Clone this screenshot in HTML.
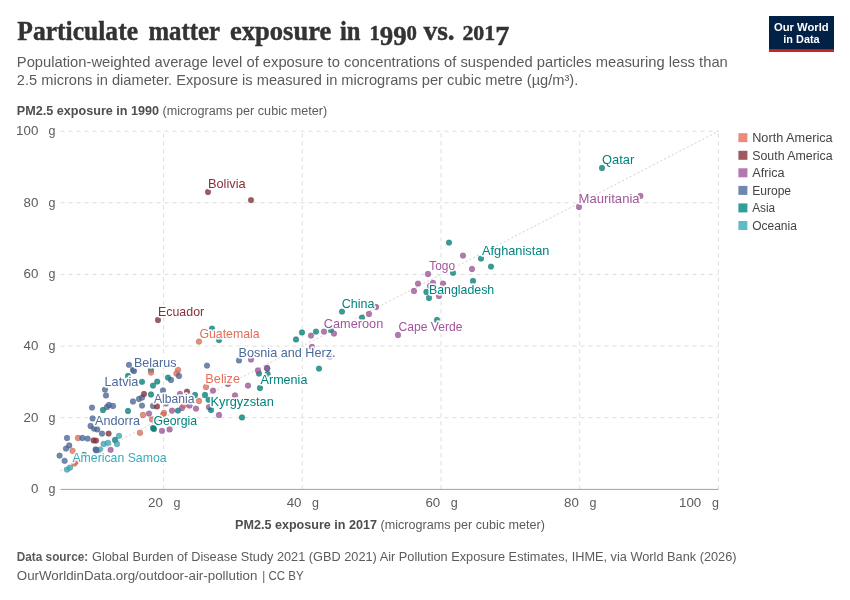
<!DOCTYPE html><html><head><meta charset="utf-8"><title>Particulate matter exposure in 1990 vs. 2017</title>
<style>html,body{margin:0;padding:0;background:#fff}svg{display:block;will-change:transform;opacity:0.999}text{font-family:"Liberation Sans",sans-serif}.ser{font-family:"Liberation Serif",serif}</style></head><body>
<svg width="850" height="600" viewBox="0 0 850 600">
<rect width="850" height="600" fill="#fff"/>
<text class="ser" x="17.3" y="40.1" font-size="28" font-weight="700" fill="#333" stroke="#333" stroke-width="0.45" textLength="120.7" lengthAdjust="spacingAndGlyphs">Particulate</text>
<text class="ser" x="148.4" y="40.1" font-size="28" font-weight="700" fill="#333" stroke="#333" stroke-width="0.45" textLength="71.5" lengthAdjust="spacingAndGlyphs">matter</text>
<text class="ser" x="230.0" y="40.1" font-size="28" font-weight="700" fill="#333" stroke="#333" stroke-width="0.45" textLength="101.3" lengthAdjust="spacingAndGlyphs">exposure</text>
<text class="ser" x="340.0" y="40.1" font-size="28" font-weight="700" fill="#333" stroke="#333" stroke-width="0.45" textLength="20.5" lengthAdjust="spacingAndGlyphs">in</text>
<text class="ser" x="423.5" y="40.1" font-size="28" font-weight="700" fill="#333" stroke="#333" stroke-width="0.45" textLength="31.1" lengthAdjust="spacingAndGlyphs">vs.</text>
<text class="ser" x="369.4" y="40.1" font-size="20.5" font-weight="700" fill="#333" stroke="#333" stroke-width="0.45" textLength="47.6" lengthAdjust="spacingAndGlyphs">1<tspan dy="4.6" font-size="26.5">99</tspan><tspan dy="-4.6">0</tspan></text>
<text class="ser" x="462.4" y="40.1" font-size="20.5" font-weight="700" fill="#333" stroke="#333" stroke-width="0.45" textLength="47" lengthAdjust="spacingAndGlyphs">201<tspan dy="4.6" font-size="26.5">7</tspan></text>
<text x="16.8" y="66.5" font-size="15" fill="#5b5b5b" textLength="711" lengthAdjust="spacingAndGlyphs">Population-weighted average level of exposure to concentrations of suspended particles measuring less than</text>
<text x="16.8" y="84.5" font-size="15" fill="#5b5b5b" textLength="561.5" lengthAdjust="spacingAndGlyphs">2.5 microns in diameter. Exposure is measured in micrograms per cubic metre (µg/m³).</text>
<rect x="769" y="16" width="65" height="36" fill="#002147"/><rect x="769" y="49.2" width="65" height="2.8" fill="#ce261e"/>
<text x="801.3" y="30.6" font-size="11.5" font-weight="700" fill="#fff" text-anchor="middle" textLength="54.7" lengthAdjust="spacingAndGlyphs">Our World</text>
<text x="801.5" y="42.6" font-size="11.5" font-weight="700" fill="#fff" text-anchor="middle" textLength="36.3" lengthAdjust="spacingAndGlyphs">in Data</text>
<text x="16.8" y="115" font-size="12.5" fill="#5b5b5b" textLength="310.4" lengthAdjust="spacingAndGlyphs"><tspan font-weight="700" fill="#4e4e4e">PM2.5 exposure in 1990</tspan> (micrograms per cubic meter)</text>
<g stroke="#ddd" stroke-width="1" stroke-dasharray="4,4" fill="none">
<line x1="60.5" x2="718.5" y1="417.7" y2="417.7"/>
<line x1="60.5" x2="718.5" y1="346.1" y2="346.1"/>
<line x1="60.5" x2="718.5" y1="274.4" y2="274.4"/>
<line x1="60.5" x2="718.5" y1="202.8" y2="202.8"/>
<line x1="60.5" x2="718.5" y1="131.2" y2="131.2"/>
<line x1="163.6" x2="163.6" y1="489.3" y2="131.2"/>
<line x1="302.3" x2="302.3" y1="489.3" y2="131.2"/>
<line x1="441.0" x2="441.0" y1="489.3" y2="131.2"/>
<line x1="579.7" x2="579.7" y1="489.3" y2="131.2"/>
<line x1="718.4" x2="718.4" y1="489.3" y2="131.2"/>
</g>
<line x1="60.5" y1="470.9" x2="718.5" y2="131.2" stroke="#d0d0d0" stroke-width="1" stroke-dasharray="2,2.3"/>
<line x1="60.5" x2="718.5" y1="489.4" y2="489.4" stroke="#a1a1a1" stroke-width="1"/>
<g font-size="12.5" fill="#5b5b5b">
<text x="38.3" y="493.2" text-anchor="end" textLength="7.4" lengthAdjust="spacingAndGlyphs">0</text><text x="48.6" y="493.2">g</text>
<text x="38.3" y="421.6" text-anchor="end" textLength="14.8" lengthAdjust="spacingAndGlyphs">20</text><text x="48.6" y="421.6">g</text>
<text x="38.3" y="350.0" text-anchor="end" textLength="14.8" lengthAdjust="spacingAndGlyphs">40</text><text x="48.6" y="350.0">g</text>
<text x="38.3" y="278.3" text-anchor="end" textLength="14.8" lengthAdjust="spacingAndGlyphs">60</text><text x="48.6" y="278.3">g</text>
<text x="38.3" y="206.7" text-anchor="end" textLength="14.8" lengthAdjust="spacingAndGlyphs">80</text><text x="48.6" y="206.7">g</text>
<text x="38.3" y="135.1" text-anchor="end" textLength="22.2" lengthAdjust="spacingAndGlyphs">100</text><text x="48.6" y="135.1">g</text>
<text x="162.8" y="507" text-anchor="end" textLength="14.8" lengthAdjust="spacingAndGlyphs">20</text><text x="173.4" y="507">g</text>
<text x="301.5" y="507" text-anchor="end" textLength="14.8" lengthAdjust="spacingAndGlyphs">40</text><text x="312.1" y="507">g</text>
<text x="440.2" y="507" text-anchor="end" textLength="14.8" lengthAdjust="spacingAndGlyphs">60</text><text x="450.8" y="507">g</text>
<text x="578.9" y="507" text-anchor="end" textLength="14.8" lengthAdjust="spacingAndGlyphs">80</text><text x="589.5" y="507">g</text>
<text x="701.2" y="507" text-anchor="end" textLength="22.2" lengthAdjust="spacingAndGlyphs">100</text><text x="712" y="507">g</text>
</g>
<text x="235" y="528.5" font-size="12.5" fill="#5b5b5b" textLength="310" lengthAdjust="spacingAndGlyphs"><tspan font-weight="700" fill="#4e4e4e">PM2.5 exposure in 2017</tspan> (micrograms per cubic meter)</text>
<g stroke-width="0.5">
<circle cx="59.6" cy="455.6" r="2.9" fill="#4C6A9C" fill-opacity="0.8" stroke="#333" stroke-opacity="0.35"/>
<circle cx="64.6" cy="460.8" r="2.9" fill="#4C6A9C" fill-opacity="0.8" stroke="#333" stroke-opacity="0.35"/>
<circle cx="67" cy="438" r="2.9" fill="#4C6A9C" fill-opacity="0.8" stroke="#333" stroke-opacity="0.35"/>
<circle cx="66" cy="448.6" r="2.9" fill="#4C6A9C" fill-opacity="0.8" stroke="#333" stroke-opacity="0.35"/>
<circle cx="69.2" cy="445.4" r="2.9" fill="#4C6A9C" fill-opacity="0.8" stroke="#333" stroke-opacity="0.35"/>
<circle cx="72.6" cy="450.8" r="2.9" fill="#E56E5A" fill-opacity="0.8" stroke="#333" stroke-opacity="0.35"/>
<circle cx="78" cy="438" r="2.9" fill="#E56E5A" fill-opacity="0.8" stroke="#333" stroke-opacity="0.35"/>
<circle cx="82.4" cy="438" r="2.9" fill="#4C6A9C" fill-opacity="0.8" stroke="#333" stroke-opacity="0.35"/>
<circle cx="87.6" cy="438.6" r="2.9" fill="#4C6A9C" fill-opacity="0.8" stroke="#333" stroke-opacity="0.35"/>
<circle cx="93.6" cy="440.4" r="2.9" fill="#883039" fill-opacity="0.8" stroke="#333" stroke-opacity="0.35"/>
<circle cx="96" cy="440.6" r="2.9" fill="#883039" fill-opacity="0.8" stroke="#333" stroke-opacity="0.35"/>
<circle cx="67" cy="469.6" r="2.9" fill="#38AABA" fill-opacity="0.8" stroke="#333" stroke-opacity="0.35"/>
<circle cx="70" cy="467.6" r="2.9" fill="#38AABA" fill-opacity="0.8" stroke="#333" stroke-opacity="0.35"/>
<circle cx="74.4" cy="463.6" r="2.9" fill="#E56E5A" fill-opacity="0.8" stroke="#333" stroke-opacity="0.35"/>
<circle cx="76" cy="461.6" r="2.9" fill="#E56E5A" fill-opacity="0.8" stroke="#333" stroke-opacity="0.35"/>
<circle cx="84" cy="455" r="2.9" fill="#00847E" fill-opacity="0.8" stroke="#333" stroke-opacity="0.35"/>
<circle cx="92" cy="407.6" r="2.9" fill="#4C6A9C" fill-opacity="0.8" stroke="#333" stroke-opacity="0.35"/>
<circle cx="92.6" cy="418.4" r="2.9" fill="#4C6A9C" fill-opacity="0.8" stroke="#333" stroke-opacity="0.35"/>
<circle cx="90.6" cy="426" r="2.9" fill="#4C6A9C" fill-opacity="0.8" stroke="#333" stroke-opacity="0.35"/>
<circle cx="94" cy="428.6" r="2.9" fill="#4C6A9C" fill-opacity="0.8" stroke="#333" stroke-opacity="0.35"/>
<circle cx="97.2" cy="429.4" r="2.9" fill="#4C6A9C" fill-opacity="0.8" stroke="#333" stroke-opacity="0.35"/>
<circle cx="102" cy="433.6" r="2.9" fill="#4C6A9C" fill-opacity="0.8" stroke="#333" stroke-opacity="0.35"/>
<circle cx="108.6" cy="433.6" r="2.9" fill="#883039" fill-opacity="0.8" stroke="#333" stroke-opacity="0.35"/>
<circle cx="119" cy="435.8" r="2.9" fill="#38AABA" fill-opacity="0.8" stroke="#333" stroke-opacity="0.35"/>
<circle cx="115" cy="440" r="2.9" fill="#00847E" fill-opacity="0.8" stroke="#333" stroke-opacity="0.35"/>
<circle cx="117" cy="444" r="2.9" fill="#38AABA" fill-opacity="0.8" stroke="#333" stroke-opacity="0.35"/>
<circle cx="103.6" cy="444" r="2.9" fill="#38AABA" fill-opacity="0.8" stroke="#333" stroke-opacity="0.35"/>
<circle cx="108" cy="442.8" r="2.9" fill="#38AABA" fill-opacity="0.8" stroke="#333" stroke-opacity="0.35"/>
<circle cx="95.6" cy="449.4" r="2.9" fill="#4C6A9C" fill-opacity="0.8" stroke="#333" stroke-opacity="0.35"/>
<circle cx="100" cy="449.6" r="2.9" fill="#38AABA" fill-opacity="0.8" stroke="#333" stroke-opacity="0.35"/>
<circle cx="96.4" cy="450.4" r="2.9" fill="#4C6A9C" fill-opacity="0.8" stroke="#333" stroke-opacity="0.35"/>
<circle cx="110.6" cy="449.8" r="2.9" fill="#A2559C" fill-opacity="0.8" stroke="#333" stroke-opacity="0.35"/>
<circle cx="105" cy="389.6" r="2.9" fill="#4C6A9C" fill-opacity="0.8" stroke="#333" stroke-opacity="0.35"/>
<circle cx="106" cy="395.4" r="2.9" fill="#4C6A9C" fill-opacity="0.8" stroke="#333" stroke-opacity="0.35"/>
<circle cx="103" cy="410" r="2.9" fill="#00847E" fill-opacity="0.8" stroke="#333" stroke-opacity="0.35"/>
<circle cx="107" cy="407" r="2.9" fill="#4C6A9C" fill-opacity="0.8" stroke="#333" stroke-opacity="0.35"/>
<circle cx="109" cy="405" r="2.9" fill="#4C6A9C" fill-opacity="0.8" stroke="#333" stroke-opacity="0.35"/>
<circle cx="113" cy="406" r="2.9" fill="#4C6A9C" fill-opacity="0.8" stroke="#333" stroke-opacity="0.35"/>
<circle cx="128" cy="411" r="2.9" fill="#00847E" fill-opacity="0.8" stroke="#333" stroke-opacity="0.35"/>
<circle cx="133" cy="401.5" r="2.9" fill="#4C6A9C" fill-opacity="0.8" stroke="#333" stroke-opacity="0.35"/>
<circle cx="139" cy="399" r="2.9" fill="#4C6A9C" fill-opacity="0.8" stroke="#333" stroke-opacity="0.35"/>
<circle cx="142" cy="397.6" r="2.9" fill="#4C6A9C" fill-opacity="0.8" stroke="#333" stroke-opacity="0.35"/>
<circle cx="144" cy="394" r="2.9" fill="#883039" fill-opacity="0.8" stroke="#333" stroke-opacity="0.35"/>
<circle cx="142" cy="405.6" r="2.9" fill="#4C6A9C" fill-opacity="0.8" stroke="#333" stroke-opacity="0.35"/>
<circle cx="143" cy="415" r="2.9" fill="#E56E5A" fill-opacity="0.8" stroke="#333" stroke-opacity="0.35"/>
<circle cx="149" cy="413.6" r="2.9" fill="#A2559C" fill-opacity="0.8" stroke="#333" stroke-opacity="0.35"/>
<circle cx="151" cy="394.5" r="2.9" fill="#00847E" fill-opacity="0.8" stroke="#333" stroke-opacity="0.35"/>
<circle cx="153" cy="406" r="2.9" fill="#4C6A9C" fill-opacity="0.8" stroke="#333" stroke-opacity="0.35"/>
<circle cx="157" cy="406.4" r="2.9" fill="#883039" fill-opacity="0.8" stroke="#333" stroke-opacity="0.35"/>
<circle cx="152" cy="419.4" r="2.9" fill="#E56E5A" fill-opacity="0.8" stroke="#333" stroke-opacity="0.35"/>
<circle cx="154" cy="429" r="2.9" fill="#00847E" fill-opacity="0.8" stroke="#333" stroke-opacity="0.35"/>
<circle cx="153" cy="428" r="2.9" fill="#00847E" fill-opacity="0.8" stroke="#333" stroke-opacity="0.35"/>
<circle cx="140" cy="432.8" r="2.9" fill="#E56E5A" fill-opacity="0.8" stroke="#333" stroke-opacity="0.35"/>
<circle cx="162" cy="430.8" r="2.9" fill="#A2559C" fill-opacity="0.8" stroke="#333" stroke-opacity="0.35"/>
<circle cx="169.6" cy="429.4" r="2.9" fill="#A2559C" fill-opacity="0.8" stroke="#333" stroke-opacity="0.35"/>
<circle cx="164" cy="413" r="2.9" fill="#E56E5A" fill-opacity="0.8" stroke="#333" stroke-opacity="0.35"/>
<circle cx="163" cy="415" r="2.9" fill="#E56E5A" fill-opacity="0.8" stroke="#333" stroke-opacity="0.35"/>
<circle cx="172" cy="410.6" r="2.9" fill="#A2559C" fill-opacity="0.8" stroke="#333" stroke-opacity="0.35"/>
<circle cx="178" cy="410.6" r="2.9" fill="#00847E" fill-opacity="0.8" stroke="#333" stroke-opacity="0.35"/>
<circle cx="182" cy="408" r="2.9" fill="#A2559C" fill-opacity="0.8" stroke="#333" stroke-opacity="0.35"/>
<circle cx="180" cy="394" r="2.9" fill="#A2559C" fill-opacity="0.8" stroke="#333" stroke-opacity="0.35"/>
<circle cx="187" cy="391.6" r="2.9" fill="#883039" fill-opacity="0.8" stroke="#333" stroke-opacity="0.35"/>
<circle cx="184" cy="405" r="2.9" fill="#E56E5A" fill-opacity="0.8" stroke="#333" stroke-opacity="0.35"/>
<circle cx="196" cy="408.6" r="2.9" fill="#A2559C" fill-opacity="0.8" stroke="#333" stroke-opacity="0.35"/>
<circle cx="199" cy="401" r="2.9" fill="#E56E5A" fill-opacity="0.8" stroke="#333" stroke-opacity="0.35"/>
<circle cx="205" cy="395" r="2.9" fill="#00847E" fill-opacity="0.8" stroke="#333" stroke-opacity="0.35"/>
<circle cx="195" cy="395" r="2.9" fill="#00847E" fill-opacity="0.8" stroke="#333" stroke-opacity="0.35"/>
<circle cx="206" cy="387" r="2.9" fill="#E56E5A" fill-opacity="0.8" stroke="#333" stroke-opacity="0.35"/>
<circle cx="163" cy="390.4" r="2.9" fill="#4C6A9C" fill-opacity="0.8" stroke="#333" stroke-opacity="0.35"/>
<circle cx="153" cy="385.6" r="2.9" fill="#00847E" fill-opacity="0.8" stroke="#333" stroke-opacity="0.35"/>
<circle cx="157.2" cy="381.6" r="2.9" fill="#00847E" fill-opacity="0.8" stroke="#333" stroke-opacity="0.35"/>
<circle cx="142" cy="381.8" r="2.9" fill="#00847E" fill-opacity="0.8" stroke="#333" stroke-opacity="0.35"/>
<circle cx="171" cy="380" r="2.9" fill="#4C6A9C" fill-opacity="0.8" stroke="#333" stroke-opacity="0.35"/>
<circle cx="158" cy="320" r="2.9" fill="#883039" fill-opacity="0.8" stroke="#333" stroke-opacity="0.35"/>
<circle cx="199" cy="341.6" r="2.9" fill="#E56E5A" fill-opacity="0.8" stroke="#333" stroke-opacity="0.35"/>
<circle cx="129" cy="364.8" r="2.9" fill="#4C6A9C" fill-opacity="0.8" stroke="#333" stroke-opacity="0.35"/>
<circle cx="133" cy="370" r="2.9" fill="#4C6A9C" fill-opacity="0.8" stroke="#333" stroke-opacity="0.35"/>
<circle cx="134" cy="371" r="2.9" fill="#4C6A9C" fill-opacity="0.8" stroke="#333" stroke-opacity="0.35"/>
<circle cx="128" cy="376" r="2.9" fill="#00847E" fill-opacity="0.8" stroke="#333" stroke-opacity="0.35"/>
<circle cx="151" cy="370" r="2.9" fill="#00847E" fill-opacity="0.8" stroke="#333" stroke-opacity="0.35"/>
<circle cx="151" cy="372.6" r="2.9" fill="#E56E5A" fill-opacity="0.8" stroke="#333" stroke-opacity="0.35"/>
<circle cx="168" cy="377.6" r="2.9" fill="#00847E" fill-opacity="0.8" stroke="#333" stroke-opacity="0.35"/>
<circle cx="178" cy="370" r="2.9" fill="#E56E5A" fill-opacity="0.8" stroke="#333" stroke-opacity="0.35"/>
<circle cx="176.4" cy="373.6" r="2.9" fill="#E56E5A" fill-opacity="0.8" stroke="#333" stroke-opacity="0.35"/>
<circle cx="179" cy="376" r="2.9" fill="#4C6A9C" fill-opacity="0.8" stroke="#333" stroke-opacity="0.35"/>
<circle cx="207" cy="365.6" r="2.9" fill="#4C6A9C" fill-opacity="0.8" stroke="#333" stroke-opacity="0.35"/>
<circle cx="212" cy="328.6" r="2.9" fill="#00847E" fill-opacity="0.8" stroke="#333" stroke-opacity="0.35"/>
<circle cx="219" cy="340" r="2.9" fill="#00847E" fill-opacity="0.8" stroke="#333" stroke-opacity="0.35"/>
<circle cx="239" cy="360.4" r="2.9" fill="#4C6A9C" fill-opacity="0.8" stroke="#333" stroke-opacity="0.35"/>
<circle cx="251" cy="359.6" r="2.9" fill="#A2559C" fill-opacity="0.8" stroke="#333" stroke-opacity="0.35"/>
<circle cx="259" cy="373.6" r="2.9" fill="#00847E" fill-opacity="0.8" stroke="#333" stroke-opacity="0.35"/>
<circle cx="267.6" cy="374" r="2.9" fill="#00847E" fill-opacity="0.8" stroke="#333" stroke-opacity="0.35"/>
<circle cx="267.2" cy="368.4" r="2.9" fill="#00847E" fill-opacity="0.8" stroke="#333" stroke-opacity="0.35"/>
<circle cx="258" cy="370.4" r="2.9" fill="#A2559C" fill-opacity="0.8" stroke="#333" stroke-opacity="0.35"/>
<circle cx="267" cy="368" r="2.9" fill="#A2559C" fill-opacity="0.8" stroke="#333" stroke-opacity="0.35"/>
<circle cx="213" cy="390.6" r="2.9" fill="#A2559C" fill-opacity="0.8" stroke="#333" stroke-opacity="0.35"/>
<circle cx="228" cy="384" r="2.9" fill="#A2559C" fill-opacity="0.8" stroke="#333" stroke-opacity="0.35"/>
<circle cx="248" cy="385.6" r="2.9" fill="#A2559C" fill-opacity="0.8" stroke="#333" stroke-opacity="0.35"/>
<circle cx="260" cy="388" r="2.9" fill="#00847E" fill-opacity="0.8" stroke="#333" stroke-opacity="0.35"/>
<circle cx="235" cy="395.5" r="2.9" fill="#A2559C" fill-opacity="0.8" stroke="#333" stroke-opacity="0.35"/>
<circle cx="208.6" cy="399.8" r="2.9" fill="#00847E" fill-opacity="0.8" stroke="#333" stroke-opacity="0.35"/>
<circle cx="209" cy="407.2" r="2.9" fill="#A2559C" fill-opacity="0.8" stroke="#333" stroke-opacity="0.35"/>
<circle cx="211" cy="410" r="2.9" fill="#00847E" fill-opacity="0.8" stroke="#333" stroke-opacity="0.35"/>
<circle cx="296" cy="339.4" r="2.9" fill="#00847E" fill-opacity="0.8" stroke="#333" stroke-opacity="0.35"/>
<circle cx="302" cy="332.4" r="2.9" fill="#00847E" fill-opacity="0.8" stroke="#333" stroke-opacity="0.35"/>
<circle cx="311" cy="335.6" r="2.9" fill="#A2559C" fill-opacity="0.8" stroke="#333" stroke-opacity="0.35"/>
<circle cx="316" cy="331.6" r="2.9" fill="#00847E" fill-opacity="0.8" stroke="#333" stroke-opacity="0.35"/>
<circle cx="324" cy="331.6" r="2.9" fill="#A2559C" fill-opacity="0.8" stroke="#333" stroke-opacity="0.35"/>
<circle cx="331" cy="330" r="2.9" fill="#00847E" fill-opacity="0.8" stroke="#333" stroke-opacity="0.35"/>
<circle cx="334" cy="333.6" r="2.9" fill="#A2559C" fill-opacity="0.8" stroke="#333" stroke-opacity="0.35"/>
<circle cx="312" cy="347" r="2.9" fill="#A2559C" fill-opacity="0.8" stroke="#333" stroke-opacity="0.35"/>
<circle cx="330" cy="356.4" r="2.9" fill="#A2559C" fill-opacity="0.8" stroke="#333" stroke-opacity="0.35"/>
<circle cx="319" cy="368.6" r="2.9" fill="#00847E" fill-opacity="0.8" stroke="#333" stroke-opacity="0.35"/>
<circle cx="342" cy="311.6" r="2.9" fill="#00847E" fill-opacity="0.8" stroke="#333" stroke-opacity="0.35"/>
<circle cx="219" cy="415" r="2.9" fill="#A2559C" fill-opacity="0.8" stroke="#333" stroke-opacity="0.35"/>
<circle cx="242" cy="417.4" r="2.9" fill="#00847E" fill-opacity="0.8" stroke="#333" stroke-opacity="0.35"/>
<circle cx="362" cy="317.6" r="2.9" fill="#00847E" fill-opacity="0.8" stroke="#333" stroke-opacity="0.35"/>
<circle cx="369" cy="314" r="2.9" fill="#A2559C" fill-opacity="0.8" stroke="#333" stroke-opacity="0.35"/>
<circle cx="376" cy="307" r="2.9" fill="#A2559C" fill-opacity="0.8" stroke="#333" stroke-opacity="0.35"/>
<circle cx="398" cy="335" r="2.9" fill="#A2559C" fill-opacity="0.8" stroke="#333" stroke-opacity="0.35"/>
<circle cx="414" cy="291" r="2.9" fill="#A2559C" fill-opacity="0.8" stroke="#333" stroke-opacity="0.35"/>
<circle cx="418" cy="283.6" r="2.9" fill="#A2559C" fill-opacity="0.8" stroke="#333" stroke-opacity="0.35"/>
<circle cx="428" cy="274" r="2.9" fill="#A2559C" fill-opacity="0.8" stroke="#333" stroke-opacity="0.35"/>
<circle cx="453" cy="272.8" r="2.9" fill="#00847E" fill-opacity="0.8" stroke="#333" stroke-opacity="0.35"/>
<circle cx="430" cy="286" r="2.9" fill="#A2559C" fill-opacity="0.8" stroke="#333" stroke-opacity="0.35"/>
<circle cx="433" cy="283" r="2.9" fill="#A2559C" fill-opacity="0.8" stroke="#333" stroke-opacity="0.35"/>
<circle cx="443" cy="283.6" r="2.9" fill="#A2559C" fill-opacity="0.8" stroke="#333" stroke-opacity="0.35"/>
<circle cx="426.4" cy="292" r="2.9" fill="#00847E" fill-opacity="0.8" stroke="#333" stroke-opacity="0.35"/>
<circle cx="429" cy="298" r="2.9" fill="#00847E" fill-opacity="0.8" stroke="#333" stroke-opacity="0.35"/>
<circle cx="439" cy="296" r="2.9" fill="#A2559C" fill-opacity="0.8" stroke="#333" stroke-opacity="0.35"/>
<circle cx="437" cy="320" r="2.9" fill="#00847E" fill-opacity="0.8" stroke="#333" stroke-opacity="0.35"/>
<circle cx="449" cy="242.6" r="2.9" fill="#00847E" fill-opacity="0.8" stroke="#333" stroke-opacity="0.35"/>
<circle cx="463" cy="255.6" r="2.9" fill="#A2559C" fill-opacity="0.8" stroke="#333" stroke-opacity="0.35"/>
<circle cx="481" cy="258.6" r="2.9" fill="#00847E" fill-opacity="0.8" stroke="#333" stroke-opacity="0.35"/>
<circle cx="491" cy="266.6" r="2.9" fill="#00847E" fill-opacity="0.8" stroke="#333" stroke-opacity="0.35"/>
<circle cx="472" cy="269" r="2.9" fill="#A2559C" fill-opacity="0.8" stroke="#333" stroke-opacity="0.35"/>
<circle cx="473" cy="281" r="2.9" fill="#00847E" fill-opacity="0.8" stroke="#333" stroke-opacity="0.35"/>
<circle cx="602" cy="168" r="2.9" fill="#00847E" fill-opacity="0.8" stroke="#333" stroke-opacity="0.35"/>
<circle cx="579" cy="207" r="2.9" fill="#A2559C" fill-opacity="0.8" stroke="#333" stroke-opacity="0.35"/>
<circle cx="640.4" cy="196" r="2.9" fill="#A2559C" fill-opacity="0.8" stroke="#333" stroke-opacity="0.35"/>
<circle cx="208" cy="192" r="2.9" fill="#883039" fill-opacity="0.8" stroke="#333" stroke-opacity="0.35"/>
<circle cx="251" cy="200.1" r="2.9" fill="#883039" fill-opacity="0.8" stroke="#333" stroke-opacity="0.35"/>
<circle cx="189.5" cy="405.6" r="2.9" fill="#A2559C" fill-opacity="0.8" stroke="#333" stroke-opacity="0.35"/>
<circle cx="166" cy="403.5" r="2.9" fill="#A2559C" fill-opacity="0.8" stroke="#333" stroke-opacity="0.35"/>
<circle cx="155.5" cy="419.5" r="2.9" fill="#A2559C" fill-opacity="0.8" stroke="#333" stroke-opacity="0.35"/>
</g>
<g font-size="13" stroke-linejoin="round">
<text x="601.99" y="164.2" fill="#00847E" stroke="#fff" stroke-width="3.3" stroke-opacity="0.9" paint-order="stroke" textLength="32.22" lengthAdjust="spacingAndGlyphs">Qatar</text>
<text x="578.53" y="203.0" fill="#A2559C" stroke="#fff" stroke-width="3.3" stroke-opacity="0.9" paint-order="stroke" textLength="61.07" lengthAdjust="spacingAndGlyphs">Mauritania</text>
<text x="207.95" y="188.2" fill="#883039" stroke="#fff" stroke-width="3.3" stroke-opacity="0.9" paint-order="stroke" textLength="37.65" lengthAdjust="spacingAndGlyphs">Bolivia</text>
<text x="481.98" y="255.0" fill="#00847E" stroke="#fff" stroke-width="3.3" stroke-opacity="0.9" paint-order="stroke" textLength="67.45" lengthAdjust="spacingAndGlyphs">Afghanistan</text>
<text x="429.35" y="270.2" fill="#A2559C" stroke="#fff" stroke-width="3.3" stroke-opacity="0.9" paint-order="stroke" textLength="25.73" lengthAdjust="spacingAndGlyphs">Togo</text>
<text x="428.99" y="294.0" fill="#00847E" stroke="#fff" stroke-width="3.3" stroke-opacity="0.9" paint-order="stroke" textLength="65.21" lengthAdjust="spacingAndGlyphs">Bangladesh</text>
<text x="341.77" y="308.0" fill="#00847E" stroke="#fff" stroke-width="3.3" stroke-opacity="0.9" paint-order="stroke" textLength="32.63" lengthAdjust="spacingAndGlyphs">China</text>
<text x="323.75" y="328.2" fill="#A2559C" stroke="#fff" stroke-width="3.3" stroke-opacity="0.9" paint-order="stroke" textLength="59.47" lengthAdjust="spacingAndGlyphs">Cameroon</text>
<text x="398.39" y="331.2" fill="#A2559C" stroke="#fff" stroke-width="3.3" stroke-opacity="0.9" paint-order="stroke" textLength="64.14" lengthAdjust="spacingAndGlyphs">Cape Verde</text>
<text x="157.98" y="316.2" fill="#883039" stroke="#fff" stroke-width="3.3" stroke-opacity="0.9" paint-order="stroke" textLength="46.22" lengthAdjust="spacingAndGlyphs">Ecuador</text>
<text x="199.38" y="338.0" fill="#E56E5A" stroke="#fff" stroke-width="3.3" stroke-opacity="0.9" paint-order="stroke" textLength="60.22" lengthAdjust="spacingAndGlyphs">Guatemala</text>
<text x="238.56" y="357.0" fill="#4C6A9C" stroke="#fff" stroke-width="3.3" stroke-opacity="0.9" paint-order="stroke" textLength="96.99" lengthAdjust="spacingAndGlyphs">Bosnia and Herz.</text>
<text x="133.97" y="367.2" fill="#4C6A9C" stroke="#fff" stroke-width="3.3" stroke-opacity="0.9" paint-order="stroke" textLength="42.48" lengthAdjust="spacingAndGlyphs">Belarus</text>
<text x="104.56" y="386.2" fill="#4C6A9C" stroke="#fff" stroke-width="3.3" stroke-opacity="0.9" paint-order="stroke" textLength="33.84" lengthAdjust="spacingAndGlyphs">Latvia</text>
<text x="153.98" y="403.0" fill="#4C6A9C" stroke="#fff" stroke-width="3.3" stroke-opacity="0.9" paint-order="stroke" textLength="40.42" lengthAdjust="spacingAndGlyphs">Albania</text>
<text x="205.36" y="383.0" fill="#E56E5A" stroke="#fff" stroke-width="3.3" stroke-opacity="0.9" paint-order="stroke" textLength="34.61" lengthAdjust="spacingAndGlyphs">Belize</text>
<text x="260.58" y="384.0" fill="#00847E" stroke="#fff" stroke-width="3.3" stroke-opacity="0.9" paint-order="stroke" textLength="46.82" lengthAdjust="spacingAndGlyphs">Armenia</text>
<text x="210.55" y="406.2" fill="#00847E" stroke="#fff" stroke-width="3.3" stroke-opacity="0.9" paint-order="stroke" textLength="63.28" lengthAdjust="spacingAndGlyphs">Kyrgyzstan</text>
<text x="94.98" y="425.0" fill="#4C6A9C" stroke="#fff" stroke-width="3.3" stroke-opacity="0.9" paint-order="stroke" textLength="45.02" lengthAdjust="spacingAndGlyphs">Andorra</text>
<text x="153.38" y="425.0" fill="#00847E" stroke="#fff" stroke-width="3.3" stroke-opacity="0.9" paint-order="stroke" textLength="43.62" lengthAdjust="spacingAndGlyphs">Georgia</text>
<text x="72.38" y="462.2" fill="#38AABA" stroke="#fff" stroke-width="3.3" stroke-opacity="0.9" paint-order="stroke" textLength="94.22" lengthAdjust="spacingAndGlyphs">American Samoa</text>
</g>
<g font-size="12.5" fill="#444">
<rect x="738.4" y="133.2" width="9" height="9" fill="#E56E5A" fill-opacity="0.8"/>
<text x="752.2" y="142.1" textLength="80.5" lengthAdjust="spacingAndGlyphs">North America</text>
<rect x="738.4" y="150.8" width="9" height="9" fill="#883039" fill-opacity="0.8"/>
<text x="752.2" y="159.7" textLength="80.5" lengthAdjust="spacingAndGlyphs">South America</text>
<rect x="738.4" y="168.3" width="9" height="9" fill="#A2559C" fill-opacity="0.8"/>
<text x="752.2" y="177.2" textLength="32.4" lengthAdjust="spacingAndGlyphs">Africa</text>
<rect x="738.4" y="185.9" width="9" height="9" fill="#4C6A9C" fill-opacity="0.8"/>
<text x="752.2" y="194.8" textLength="38.9" lengthAdjust="spacingAndGlyphs">Europe</text>
<rect x="738.4" y="203.4" width="9" height="9" fill="#00847E" fill-opacity="0.8"/>
<text x="752.2" y="212.3" textLength="23.0" lengthAdjust="spacingAndGlyphs">Asia</text>
<rect x="738.4" y="221.0" width="9" height="9" fill="#38AABA" fill-opacity="0.8"/>
<text x="752.2" y="229.9" textLength="44.7" lengthAdjust="spacingAndGlyphs">Oceania</text>
</g>
<text x="16.8" y="560.5" font-size="12.5" font-weight="700" fill="#5b5b5b" textLength="71.4" lengthAdjust="spacingAndGlyphs">Data source:</text>
<text x="92" y="560.5" font-size="12.5" fill="#5b5b5b" textLength="644.5" lengthAdjust="spacingAndGlyphs">Global Burden of Disease Study 2021 (GBD 2021) Air Pollution Exposure Estimates, IHME, via World Bank (2026)</text>
<text x="16.8" y="580.4" font-size="12.5" fill="#5b5b5b" textLength="240.6" lengthAdjust="spacingAndGlyphs">OurWorldinData.org/outdoor-air-pollution</text>
<text x="262.3" y="580.4" font-size="12.5" fill="#5b5b5b" textLength="41.4" lengthAdjust="spacingAndGlyphs">| CC BY</text>
</svg></body></html>
